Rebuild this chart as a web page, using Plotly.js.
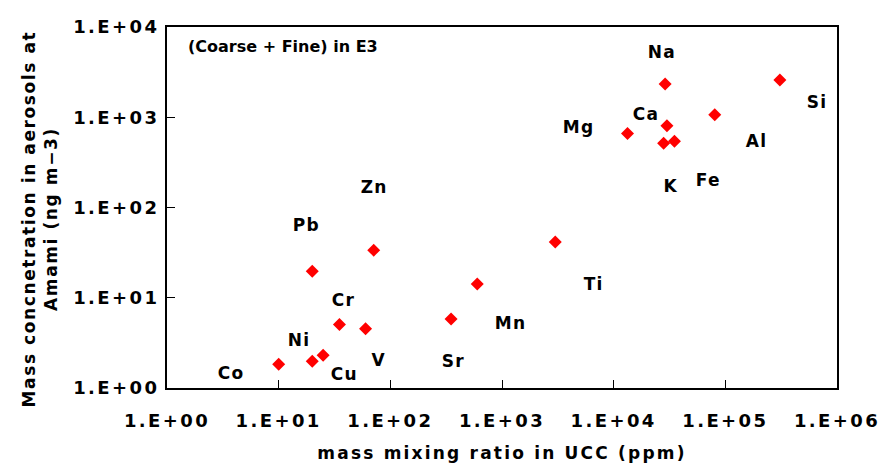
<!DOCTYPE html>
<html>
<head>
<meta charset="utf-8">
<script src="https://cdn.plot.ly/plotly-3.0.1.min.js"></script>
<style>
  html, body { margin: 0; padding: 0; background: #fff; }
  #chart { width: 892px; height: 476px; }
  /* widely spaced lettering */
  #chart .xtitle { letter-spacing: 2.2px; }
  #chart .xtick text, #chart .ytick text { letter-spacing: 2.4px; }
  #chart .annotation text { letter-spacing: 1.2px; }
  #chart .annotation[data-index="17"] text { letter-spacing: 0; }
  #chart .annotation[data-index="18"] text { letter-spacing: 1.6px; }
</style>
</head>
<body>
<div id="chart"></div>
<script>
// Elements, their abundance in the upper continental crust (ppm)
// and measured mass concentration in aerosols at Amami (ng m-3).
const elements = ["Co", "Ni", "Cu", "Cr", "V", "Pb", "Zn", "Sr", "Mn", "Ti",
                  "Mg", "Na", "Ca", "K", "Fe", "Al", "Si"];
const uccPpm = [10, 20, 25, 35, 60, 20, 71, 350, 600, 3000,
                13300, 28900, 30000, 28000, 35000, 80400, 308000];
const concentration = [1.83, 1.98, 2.31, 5.06, 4.52, 19.6, 33.7, 5.8, 14.2, 41.4,
                       659, 2330, 803, 516, 543, 1063, 2580];

// Tick labels in spreadsheet exponent style
const xTickVals = [1, 10, 100, 1000, 10000, 100000, 1000000];
const xTickText = ["1.E+00", "1.E+01", "1.E+02", "1.E+03", "1.E+04", "1.E+05", "1.E+06"];
const yTickVals = [1, 10, 100, 1000, 10000];
const yTickText = ["1.E+00", "1.E+01", "1.E+02", "1.E+03", "1.E+04"];

// Pixel offsets of each element label from its marker
const labelOffsets = {
  Co: [-48, -9], Ni: [-13, 21], Cu: [21, -19], Cr: [4, 24], V: [13, -31],
  Pb: [-6, 46], Zn: [0, 63], Sr: [2, -42], Mn: [33, -39], Ti: [38, -42],
  Mg: [-49, 7], Na: [-3, 32], Ca: [-21, 12], K: [7, -43], Fe: [34, -39],
  Al: [42, -26], Si: [37, -22]
};

const FONT = "DejaVu Sans";
const bold = s => "<b>" + s + "</b>";

const trace = {
  type: "scatter",
  mode: "markers",
  x: uccPpm,
  y: concentration,
  text: elements,
  marker: { symbol: "diamond", size: 10, color: "#ff0000", line: { width: 0 } },
  hoverinfo: "text+x+y"
};

const annotations = elements.map((el, i) => ({
  x: Math.log10(uccPpm[i]),
  y: Math.log10(concentration[i]),
  xref: "x", yref: "y",
  text: bold(el),
  showarrow: false,
  xshift: labelOffsets[el][0],
  yshift: labelOffsets[el][1],
  font: { family: FONT, size: 17, color: "#000" }
}));

// Panel caption
annotations.push({
  xref: "paper", yref: "paper",
  x: 0.029, y: 0.945,
  xanchor: "left", yanchor: "middle",
  text: bold("(Coarse + Fine) in E3"),
  showarrow: false,
  font: { family: FONT, size: 16, color: "#000" }
});

// Two-line vertical title of the concentration axis
annotations.push({
  xref: "paper", yref: "paper",
  x: -0.1896, y: 0.468,
  xanchor: "center", yanchor: "middle",
  textangle: -90,
  text: bold("Mass concnetration in aerosols at<br>Amami (ng m\u22123)"),
  showarrow: false,
  font: { family: FONT, size: 17, color: "#000" }
});

const axisCommon = {
  type: "log",
  showgrid: false,
  zeroline: false,
  showline: true,
  mirror: true,
  linecolor: "#000",
  linewidth: 2,
  ticks: "inside",
  ticklen: 8,
  tickwidth: 1,
  tickcolor: "#000",
  tickmode: "array",
  tickfont: { family: FONT, size: 18, color: "#000" }
};

const layout = {
  width: 892,
  height: 476,
  margin: { l: 167, r: 55, t: 27, b: 88 },
  paper_bgcolor: "#fff",
  plot_bgcolor: "#fff",
  showlegend: false,
  xaxis: Object.assign({}, axisCommon, {
    range: [0, 6],
    tickvals: xTickVals,
    ticktext: xTickText.map(bold),
    ticklabelstandoff: 15,
    title: {
      text: bold("mass mixing ratio in UCC (ppm)"),
      font: { family: FONT, size: 17, color: "#000" },
      standoff: 18
    }
  }),
  yaxis: Object.assign({}, axisCommon, {
    range: [0, 4],
    tickvals: yTickVals,
    ticktext: yTickText.map(bold),
    ticklabelstandoff: 2
  }),
  annotations: annotations
};

Plotly.newPlot("chart", [trace], layout, { displayModeBar: false, staticPlot: true });
</script>
</body>
</html>
